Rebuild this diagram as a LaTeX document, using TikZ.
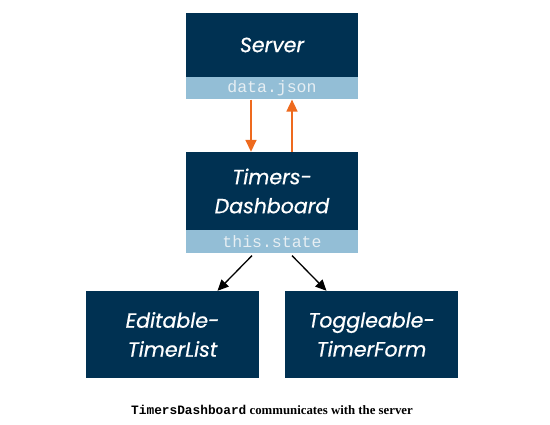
\documentclass[tikz,border=0pt]{standalone}
\usepackage{fontspec}
\setmainfont{Liberation Serif}
\setmonofont{Liberation Mono}
\newfontfamily\boxfont{Poppins}[ItalicFeatures={FakeBold=0.6}]
\usetikzlibrary{positioning,arrows.meta}

\definecolor{navy}{HTML}{003152}
\definecolor{paleblue}{HTML}{93BED6}
\definecolor{floworange}{HTML}{EE6A1E}
\definecolor{stripfg}{HTML}{E6EEF3}

\tikzset{
  compbox/.style={fill=navy,text=white,minimum width=172pt,align=center,
    inner sep=0pt,font=\boxfont\itshape\fontsize{20.5}{29}\selectfont},
  statestrip/.style={fill=paleblue,text=stripfg,minimum width=172pt,inner sep=0pt,
    font=\ttfamily\fontsize{16.5}{18}\selectfont},
  dataflow/.style={-{Triangle[length=12pt,width=11pt]},draw=floworange,line width=1.6pt},
  childarrow/.style={-{Triangle[length=11pt,width=10pt]},line width=1.3pt}
}

\begin{document}
\begin{tikzpicture}[x=1pt,y=-1pt]
	\useasboundingbox[fill=white] (0,0) rectangle (550,425);
	\node[compbox,minimum height=64pt] (server) at (272,45) {Server};
	\node[statestrip,minimum height=22pt,below=0pt of server] (serverdata) {data.json};
	\node[compbox,minimum height=78pt] (dash) at (272,191) {Timers-\\Dashboard};
	\node[statestrip,minimum height=23pt,below=0pt of dash] (dashstate) {this.state};
	\node[compbox,minimum width=173pt,minimum height=87pt] (editlist) at (172.5,334.5) {Editable-\\TimerList};
	\node[compbox,minimum width=173pt,minimum height=87pt] (toggleform) at (371.5,334.5) {Toggleable-\\TimerForm};
	% server <-> dashboard
	\draw[dataflow] ([xshift=-21pt]serverdata.south) -- ([xshift=-21pt]dash.north);
	\draw[dataflow] ([xshift=20pt]dash.north) -- ([xshift=20pt]serverdata.south);
	% dashboard -> children
	\draw[childarrow] ([shift={(-20pt,-2pt)}]dashstate.south) -- ([xshift=45pt]editlist.north);
	\draw[childarrow] ([shift={(20pt,-2pt)}]dashstate.south) -- ([xshift=-45pt]toggleform.north);
	\node (caption) at (272,410) {\fontsize{12.8}{14}\selectfont\textbf{\texttt{TimersDashboard} communicates with the server}};
\end{tikzpicture}
\end{document}
